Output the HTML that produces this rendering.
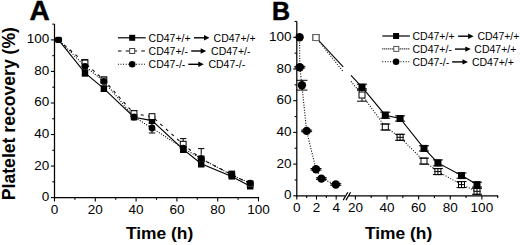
<!DOCTYPE html><html><head><meta charset="utf-8"><style>html,body{margin:0;padding:0;background:#fff;overflow:hidden}svg{display:block}text{font-family:"Liberation Sans",sans-serif;fill:#000}</style></head><body>
<svg width="520" height="245" viewBox="0 0 520 245">
<rect width="520" height="245" fill="#fff"/>
<text x="29.50" y="20.10" font-size="28" text-anchor="start" font-weight="bold" stroke="#000" stroke-width="0.5">A</text>
<text x="271.90" y="19.70" font-size="25" text-anchor="start" font-weight="bold" stroke="#000" stroke-width="0.5">B</text>
<text transform="translate(15.3,113.6) rotate(-90)" font-size="17.6" font-weight="bold" text-anchor="middle">Platelet recovery (%)</text>
<line x1="54.5" y1="24.13" x2="54.5" y2="198.22" stroke="#000" stroke-width="1.25"/>
<line x1="53.875" y1="197.6" x2="259.12" y2="197.6" stroke="#000" stroke-width="1.25"/>
<line x1="50.90" y1="197.60" x2="54.5" y2="197.60" stroke="#000" stroke-width="1.1"/>
<line x1="52.30" y1="181.83" x2="54.5" y2="181.83" stroke="#000" stroke-width="1.1"/>
<line x1="50.90" y1="166.06" x2="54.5" y2="166.06" stroke="#000" stroke-width="1.1"/>
<line x1="52.30" y1="150.29" x2="54.5" y2="150.29" stroke="#000" stroke-width="1.1"/>
<line x1="50.90" y1="134.52" x2="54.5" y2="134.52" stroke="#000" stroke-width="1.1"/>
<line x1="52.30" y1="118.75" x2="54.5" y2="118.75" stroke="#000" stroke-width="1.1"/>
<line x1="50.90" y1="102.98" x2="54.5" y2="102.98" stroke="#000" stroke-width="1.1"/>
<line x1="52.30" y1="87.21" x2="54.5" y2="87.21" stroke="#000" stroke-width="1.1"/>
<line x1="50.90" y1="71.44" x2="54.5" y2="71.44" stroke="#000" stroke-width="1.1"/>
<line x1="52.30" y1="55.67" x2="54.5" y2="55.67" stroke="#000" stroke-width="1.1"/>
<line x1="50.90" y1="39.90" x2="54.5" y2="39.90" stroke="#000" stroke-width="1.1"/>
<line x1="52.30" y1="24.13" x2="54.5" y2="24.13" stroke="#000" stroke-width="1.1"/>
<line x1="54.50" y1="197.6" x2="54.50" y2="201.40" stroke="#000" stroke-width="1.1"/>
<line x1="74.90" y1="197.6" x2="74.90" y2="199.80" stroke="#000" stroke-width="1.1"/>
<line x1="95.30" y1="197.6" x2="95.30" y2="201.40" stroke="#000" stroke-width="1.1"/>
<line x1="115.70" y1="197.6" x2="115.70" y2="199.80" stroke="#000" stroke-width="1.1"/>
<line x1="136.10" y1="197.6" x2="136.10" y2="201.40" stroke="#000" stroke-width="1.1"/>
<line x1="156.50" y1="197.6" x2="156.50" y2="199.80" stroke="#000" stroke-width="1.1"/>
<line x1="176.90" y1="197.6" x2="176.90" y2="201.40" stroke="#000" stroke-width="1.1"/>
<line x1="197.30" y1="197.6" x2="197.30" y2="199.80" stroke="#000" stroke-width="1.1"/>
<line x1="217.70" y1="197.6" x2="217.70" y2="201.40" stroke="#000" stroke-width="1.1"/>
<line x1="238.10" y1="197.6" x2="238.10" y2="199.80" stroke="#000" stroke-width="1.1"/>
<line x1="258.50" y1="197.6" x2="258.50" y2="201.40" stroke="#000" stroke-width="1.1"/>
<text x="49.30" y="201.10" font-size="13.5" text-anchor="end" font-weight="normal" >0</text>
<text x="49.30" y="169.56" font-size="13.5" text-anchor="end" font-weight="normal" >20</text>
<text x="49.30" y="138.02" font-size="13.5" text-anchor="end" font-weight="normal" >40</text>
<text x="49.30" y="106.48" font-size="13.5" text-anchor="end" font-weight="normal" >60</text>
<text x="49.30" y="74.94" font-size="13.5" text-anchor="end" font-weight="normal" >80</text>
<text x="49.30" y="43.40" font-size="13.5" text-anchor="end" font-weight="normal" >100</text>
<text x="54.50" y="214.00" font-size="13.5" text-anchor="middle" font-weight="normal" >0</text>
<text x="95.30" y="214.00" font-size="13.5" text-anchor="middle" font-weight="normal" >20</text>
<text x="136.10" y="214.00" font-size="13.5" text-anchor="middle" font-weight="normal" >40</text>
<text x="176.90" y="214.00" font-size="13.5" text-anchor="middle" font-weight="normal" >60</text>
<text x="217.70" y="214.00" font-size="13.5" text-anchor="middle" font-weight="normal" >80</text>
<text x="258.50" y="214.00" font-size="13.5" text-anchor="middle" font-weight="normal" >100</text>
<text x="159.60" y="238.70" font-size="17.4" text-anchor="middle" font-weight="bold" >Time (h)</text>
<polyline points="58.50,39.90 85.00,72.80 103.90,88.60 134.00,117.20 152.00,120.60 183.20,149.40 201.20,163.80 231.80,176.40 250.20,186.30" fill="none" stroke="#000" stroke-width="1.1"/>
<polyline points="58.50,39.90 85.00,63.00 103.90,80.00 134.00,113.60 152.00,116.60 183.20,144.20 201.20,159.00 231.80,174.50 250.20,184.00" fill="none" stroke="#000" stroke-width="1.1" stroke-dasharray="3,4.5"/>
<polyline points="58.50,39.90 85.00,66.30 103.90,81.40 134.00,117.00 152.00,128.00 183.20,148.20 201.20,158.60 231.80,175.00 250.20,183.20" fill="none" stroke="#000" stroke-width="1.1" stroke-dasharray="1,1.5"/>
<line x1="85.00" y1="70.00" x2="85.00" y2="73.10" stroke="#000" stroke-width="1"/><line x1="85.00" y1="73.10" x2="85.00" y2="76.20" stroke="#000" stroke-width="1"/><line x1="81.80" y1="70.00" x2="88.20" y2="70.00" stroke="#000" stroke-width="1"/><line x1="81.80" y1="76.20" x2="88.20" y2="76.20" stroke="#000" stroke-width="1"/>
<line x1="103.90" y1="86.00" x2="103.90" y2="88.75" stroke="#000" stroke-width="1"/><line x1="103.90" y1="88.75" x2="103.90" y2="91.50" stroke="#000" stroke-width="1"/><line x1="100.70" y1="86.00" x2="107.10" y2="86.00" stroke="#000" stroke-width="1"/><line x1="100.70" y1="91.50" x2="107.10" y2="91.50" stroke="#000" stroke-width="1"/>
<line x1="183.20" y1="147.00" x2="183.20" y2="149.75" stroke="#000" stroke-width="1"/><line x1="183.20" y1="149.75" x2="183.20" y2="152.50" stroke="#000" stroke-width="1"/><line x1="180.00" y1="147.00" x2="186.40" y2="147.00" stroke="#000" stroke-width="1"/><line x1="180.00" y1="152.50" x2="186.40" y2="152.50" stroke="#000" stroke-width="1"/>
<line x1="201.20" y1="161.00" x2="201.20" y2="164.00" stroke="#000" stroke-width="1"/><line x1="201.20" y1="164.00" x2="201.20" y2="167.00" stroke="#000" stroke-width="1"/><line x1="198.00" y1="161.00" x2="204.40" y2="161.00" stroke="#000" stroke-width="1"/><line x1="198.00" y1="167.00" x2="204.40" y2="167.00" stroke="#000" stroke-width="1"/>
<rect x="81.80" y="69.60" width="6.4" height="6.4" fill="#000"/>
<rect x="100.70" y="85.40" width="6.4" height="6.4" fill="#000"/>
<rect x="130.80" y="114.00" width="6.4" height="6.4" fill="#000"/>
<rect x="148.80" y="117.40" width="6.4" height="6.4" fill="#000"/>
<rect x="180.00" y="146.20" width="6.4" height="6.4" fill="#000"/>
<rect x="198.00" y="160.60" width="6.4" height="6.4" fill="#000"/>
<rect x="228.60" y="173.20" width="6.4" height="6.4" fill="#000"/>
<rect x="247.00" y="183.10" width="6.4" height="6.4" fill="#000"/>
<rect x="54.90" y="36.80" width="7.2" height="6.2" rx="2" fill="#000"/>
<line x1="85.00" y1="59.60" x2="85.00" y2="62.80" stroke="#000" stroke-width="1"/><line x1="85.00" y1="62.80" x2="85.00" y2="66.00" stroke="#000" stroke-width="1"/><line x1="81.80" y1="59.60" x2="88.20" y2="59.60" stroke="#000" stroke-width="1"/><line x1="81.80" y1="66.00" x2="88.20" y2="66.00" stroke="#000" stroke-width="1"/>
<line x1="103.90" y1="77.00" x2="103.90" y2="80.00" stroke="#000" stroke-width="1"/><line x1="103.90" y1="80.00" x2="103.90" y2="83.00" stroke="#000" stroke-width="1"/><line x1="100.70" y1="77.00" x2="107.10" y2="77.00" stroke="#000" stroke-width="1"/><line x1="100.70" y1="83.00" x2="107.10" y2="83.00" stroke="#000" stroke-width="1"/>
<line x1="152.00" y1="116.40" x2="152.00" y2="116.60" stroke="#000" stroke-width="1"/><line x1="152.00" y1="116.60" x2="152.00" y2="116.80" stroke="#000" stroke-width="1"/><line x1="148.80" y1="116.40" x2="155.20" y2="116.40" stroke="#000" stroke-width="1"/><line x1="148.80" y1="116.80" x2="155.20" y2="116.80" stroke="#000" stroke-width="1"/>
<line x1="183.20" y1="138.60" x2="183.20" y2="144.20" stroke="#000" stroke-width="1"/><line x1="183.20" y1="144.20" x2="183.20" y2="149.80" stroke="#000" stroke-width="1"/><line x1="180.00" y1="138.60" x2="186.40" y2="138.60" stroke="#000" stroke-width="1"/><line x1="180.00" y1="149.80" x2="186.40" y2="149.80" stroke="#000" stroke-width="1"/>
<line x1="134.00" y1="110.60" x2="134.00" y2="113.30" stroke="#000" stroke-width="1"/><line x1="134.00" y1="113.30" x2="134.00" y2="116.00" stroke="#000" stroke-width="1"/><line x1="130.80" y1="110.60" x2="137.20" y2="110.60" stroke="#000" stroke-width="1"/><line x1="130.80" y1="116.00" x2="137.20" y2="116.00" stroke="#000" stroke-width="1"/>
<line x1="231.80" y1="171.10" x2="231.80" y2="174.50" stroke="#000" stroke-width="1"/><line x1="231.80" y1="174.50" x2="231.80" y2="177.90" stroke="#000" stroke-width="1"/><line x1="228.60" y1="171.10" x2="235.00" y2="171.10" stroke="#000" stroke-width="1"/><line x1="228.60" y1="177.90" x2="235.00" y2="177.90" stroke="#000" stroke-width="1"/>
<rect x="82.10" y="60.10" width="5.800000000000001" height="5.800000000000001" fill="#fff" stroke="#000" stroke-width="1"/>
<rect x="101.00" y="77.10" width="5.800000000000001" height="5.800000000000001" fill="#fff" stroke="#000" stroke-width="1"/>
<rect x="131.10" y="110.70" width="5.800000000000001" height="5.800000000000001" fill="#fff" stroke="#000" stroke-width="1"/>
<rect x="149.10" y="113.70" width="5.800000000000001" height="5.800000000000001" fill="#fff" stroke="#000" stroke-width="1"/>
<rect x="180.30" y="141.30" width="5.800000000000001" height="5.800000000000001" fill="#fff" stroke="#000" stroke-width="1"/>
<rect x="198.30" y="156.10" width="5.800000000000001" height="5.800000000000001" fill="#fff" stroke="#000" stroke-width="1"/>
<rect x="228.90" y="171.60" width="5.800000000000001" height="5.800000000000001" fill="#fff" stroke="#000" stroke-width="1"/>
<rect x="247.30" y="181.10" width="5.800000000000001" height="5.800000000000001" fill="#fff" stroke="#000" stroke-width="1"/>
<line x1="152.00" y1="123.50" x2="152.00" y2="128.25" stroke="#000" stroke-width="1"/><line x1="152.00" y1="128.25" x2="152.00" y2="133.00" stroke="#000" stroke-width="1"/><line x1="148.80" y1="123.50" x2="155.20" y2="123.50" stroke="#000" stroke-width="1"/><line x1="148.80" y1="133.00" x2="155.20" y2="133.00" stroke="#000" stroke-width="1"/>
<line x1="201.20" y1="148.60" x2="201.20" y2="154.30" stroke="#000" stroke-width="1"/><line x1="201.20" y1="154.30" x2="201.20" y2="160.00" stroke="#000" stroke-width="1"/><line x1="198.00" y1="148.60" x2="204.40" y2="148.60" stroke="#000" stroke-width="1"/><line x1="198.00" y1="160.00" x2="204.40" y2="160.00" stroke="#000" stroke-width="1"/>
<circle cx="85.00" cy="66.30" r="3.4" fill="#000"/>
<circle cx="103.90" cy="81.40" r="3.4" fill="#000"/>
<circle cx="134.00" cy="117.00" r="3.4" fill="#000"/>
<circle cx="152.00" cy="128.00" r="3.4" fill="#000"/>
<circle cx="183.20" cy="148.20" r="3.4" fill="#000"/>
<circle cx="201.20" cy="158.60" r="3.4" fill="#000"/>
<circle cx="231.80" cy="175.00" r="3.4" fill="#000"/>
<circle cx="250.20" cy="183.20" r="3.4" fill="#000"/>
<line x1="117.9" y1="37.8" x2="145.7" y2="37.8" stroke="#000" stroke-width="1.2"/>
<line x1="117.9" y1="51.0" x2="145.7" y2="51.0" stroke="#000" stroke-width="1.2" stroke-dasharray="3.6,4.2"/>
<line x1="117.9" y1="64.3" x2="145.7" y2="64.3" stroke="#000" stroke-width="1.1" stroke-dasharray="1,1.6"/>
<rect x="129.20" y="34.80" width="6" height="6" fill="#000"/>
<rect x="129.70" y="48.50" width="5" height="5" fill="#fff" stroke="#444" stroke-width="1"/>
<circle cx="132.20" cy="64.30" r="3.3" fill="#000"/>
<text x="148.60" y="41.50" font-size="10.5" text-anchor="start" font-weight="normal" >CD47+/+</text>
<line x1="194.00" y1="37.80" x2="205.50" y2="37.80" stroke="#000" stroke-width="1.4"/><path d="M204.00,35.10 L209.50,37.80 L204.00,40.50 Z" fill="#000"/>
<text x="213.60" y="41.50" font-size="10.5" text-anchor="start" font-weight="normal" >CD47+/+</text>
<text x="148.60" y="54.70" font-size="10.5" text-anchor="start" font-weight="normal" >CD47+/-</text>
<line x1="191.20" y1="51.00" x2="202.20" y2="51.00" stroke="#000" stroke-width="1.4"/><path d="M200.70,48.30 L206.20,51.00 L200.70,53.70 Z" fill="#000"/>
<text x="211.10" y="54.70" font-size="10.5" text-anchor="start" font-weight="normal" >CD47+/-</text>
<text x="148.60" y="68.00" font-size="10.5" text-anchor="start" font-weight="normal" >CD47-/-</text>
<line x1="188.30" y1="64.30" x2="199.80" y2="64.30" stroke="#000" stroke-width="1.4"/><path d="M198.30,61.60 L203.80,64.30 L198.30,67.00 Z" fill="#000"/>
<text x="208.40" y="68.00" font-size="10.5" text-anchor="start" font-weight="normal" >CD47-/-</text>
<line x1="296.8" y1="21.45" x2="296.8" y2="196.43" stroke="#000" stroke-width="1.25"/>
<line x1="296.175" y1="195.8" x2="345" y2="195.8" stroke="#000" stroke-width="1.25"/>
<line x1="348.6" y1="195.8" x2="498.19" y2="195.8" stroke="#000" stroke-width="1.25"/>
<line x1="343.2" y1="200.1" x2="347.8" y2="192.2" stroke="#000" stroke-width="1.2"/>
<line x1="346.0" y1="200.1" x2="350.6" y2="192.2" stroke="#000" stroke-width="1.2"/>
<line x1="293.20" y1="195.80" x2="296.8" y2="195.80" stroke="#000" stroke-width="1.1"/>
<line x1="294.60" y1="179.95" x2="296.8" y2="179.95" stroke="#000" stroke-width="1.1"/>
<line x1="293.20" y1="164.10" x2="296.8" y2="164.10" stroke="#000" stroke-width="1.1"/>
<line x1="294.60" y1="148.25" x2="296.8" y2="148.25" stroke="#000" stroke-width="1.1"/>
<line x1="293.20" y1="132.40" x2="296.8" y2="132.40" stroke="#000" stroke-width="1.1"/>
<line x1="294.60" y1="116.55" x2="296.8" y2="116.55" stroke="#000" stroke-width="1.1"/>
<line x1="293.20" y1="100.70" x2="296.8" y2="100.70" stroke="#000" stroke-width="1.1"/>
<line x1="294.60" y1="84.85" x2="296.8" y2="84.85" stroke="#000" stroke-width="1.1"/>
<line x1="293.20" y1="69.00" x2="296.8" y2="69.00" stroke="#000" stroke-width="1.1"/>
<line x1="294.60" y1="53.15" x2="296.8" y2="53.15" stroke="#000" stroke-width="1.1"/>
<line x1="293.20" y1="37.30" x2="296.8" y2="37.30" stroke="#000" stroke-width="1.1"/>
<line x1="294.60" y1="21.45" x2="296.8" y2="21.45" stroke="#000" stroke-width="1.1"/>
<line x1="296.80" y1="195.8" x2="296.80" y2="199.60" stroke="#000" stroke-width="1.1"/>
<line x1="306.65" y1="195.8" x2="306.65" y2="198.00" stroke="#000" stroke-width="1.1"/>
<line x1="316.50" y1="195.8" x2="316.50" y2="199.60" stroke="#000" stroke-width="1.1"/>
<line x1="326.35" y1="195.8" x2="326.35" y2="198.00" stroke="#000" stroke-width="1.1"/>
<line x1="336.20" y1="195.8" x2="336.20" y2="199.60" stroke="#000" stroke-width="1.1"/>
<line x1="355.40" y1="195.8" x2="355.40" y2="199.60" stroke="#000" stroke-width="1.1"/>
<line x1="371.21" y1="195.8" x2="371.21" y2="198.00" stroke="#000" stroke-width="1.1"/>
<line x1="387.02" y1="195.8" x2="387.02" y2="199.60" stroke="#000" stroke-width="1.1"/>
<line x1="402.83" y1="195.8" x2="402.83" y2="198.00" stroke="#000" stroke-width="1.1"/>
<line x1="418.64" y1="195.8" x2="418.64" y2="199.60" stroke="#000" stroke-width="1.1"/>
<line x1="434.45" y1="195.8" x2="434.45" y2="198.00" stroke="#000" stroke-width="1.1"/>
<line x1="450.26" y1="195.8" x2="450.26" y2="199.60" stroke="#000" stroke-width="1.1"/>
<line x1="466.07" y1="195.8" x2="466.07" y2="198.00" stroke="#000" stroke-width="1.1"/>
<line x1="481.88" y1="195.8" x2="481.88" y2="199.60" stroke="#000" stroke-width="1.1"/>
<line x1="497.69" y1="195.8" x2="497.69" y2="198.00" stroke="#000" stroke-width="1.1"/>
<text x="291.60" y="199.30" font-size="13.5" text-anchor="end" font-weight="normal" >0</text>
<text x="291.60" y="167.60" font-size="13.5" text-anchor="end" font-weight="normal" >20</text>
<text x="291.60" y="135.90" font-size="13.5" text-anchor="end" font-weight="normal" >40</text>
<text x="291.60" y="104.20" font-size="13.5" text-anchor="end" font-weight="normal" >60</text>
<text x="291.60" y="72.50" font-size="13.5" text-anchor="end" font-weight="normal" >80</text>
<text x="291.60" y="40.80" font-size="13.5" text-anchor="end" font-weight="normal" >100</text>
<text x="296.80" y="212.20" font-size="13.5" text-anchor="middle" font-weight="normal" >0</text>
<text x="316.50" y="212.20" font-size="13.5" text-anchor="middle" font-weight="normal" >2</text>
<text x="336.20" y="212.20" font-size="13.5" text-anchor="middle" font-weight="normal" >4</text>
<text x="355.40" y="212.20" font-size="13.5" text-anchor="middle" font-weight="normal" >20</text>
<text x="387.02" y="212.20" font-size="13.5" text-anchor="middle" font-weight="normal" >40</text>
<text x="418.64" y="212.20" font-size="13.5" text-anchor="middle" font-weight="normal" >60</text>
<text x="450.26" y="212.20" font-size="13.5" text-anchor="middle" font-weight="normal" >80</text>
<text x="481.88" y="212.20" font-size="13.5" text-anchor="middle" font-weight="normal" >100</text>
<text x="398.60" y="238.50" font-size="17.4" text-anchor="middle" font-weight="bold" >Time (h)</text>
<polyline points="299.60,37.20 299.80,67.20 301.90,85.20 306.60,130.90 316.00,169.30 321.40,178.60 335.80,184.50" fill="none" stroke="#000" stroke-width="1.1" stroke-dasharray="1,1.6"/>
<polyline points="316.00,37.50 343.20,66.89" fill="none" stroke="#000" stroke-width="1.1"/>
<polyline points="351.00,75.32 362.00,87.20 385.30,115.20 400.10,118.50 424.00,148.40 437.90,162.90 461.50,175.60 477.00,184.60" fill="none" stroke="#000" stroke-width="1.1"/>
<polyline points="316.00,37.60 343.20,71.54" fill="none" stroke="#000" stroke-width="1.1" stroke-dasharray="1,1.6"/>
<polyline points="351.00,81.27 362.00,95.00 385.30,127.00 400.10,137.30 424.00,161.10 437.90,171.60 461.50,184.60 477.00,191.30" fill="none" stroke="#000" stroke-width="1.1" stroke-dasharray="1,1.6"/>
<rect x="312.50" y="34.00" width="7.0" height="7.0" fill="#000"/>
<rect x="358.50" y="83.70" width="7.0" height="7.0" fill="#000"/>
<rect x="381.80" y="111.70" width="7.0" height="7.0" fill="#000"/>
<rect x="396.60" y="115.00" width="7.0" height="7.0" fill="#000"/>
<rect x="420.50" y="144.90" width="7.0" height="7.0" fill="#000"/>
<rect x="434.40" y="159.40" width="7.0" height="7.0" fill="#000"/>
<rect x="458.00" y="172.10" width="7.0" height="7.0" fill="#000"/>
<rect x="473.50" y="181.10" width="7.0" height="7.0" fill="#000"/>
<line x1="362.00" y1="84.20" x2="362.00" y2="87.20" stroke="#000" stroke-width="1"/><line x1="362.00" y1="87.20" x2="362.00" y2="90.20" stroke="#000" stroke-width="1"/><line x1="357.00" y1="84.20" x2="367.00" y2="84.20" stroke="#000" stroke-width="1"/><line x1="357.00" y1="90.20" x2="367.00" y2="90.20" stroke="#000" stroke-width="1"/>
<line x1="385.30" y1="112.20" x2="385.30" y2="115.20" stroke="#000" stroke-width="1"/><line x1="385.30" y1="115.20" x2="385.30" y2="118.20" stroke="#000" stroke-width="1"/><line x1="380.30" y1="112.20" x2="390.30" y2="112.20" stroke="#000" stroke-width="1"/><line x1="380.30" y1="118.20" x2="390.30" y2="118.20" stroke="#000" stroke-width="1"/>
<line x1="400.10" y1="115.90" x2="400.10" y2="118.50" stroke="#000" stroke-width="1"/><line x1="400.10" y1="118.50" x2="400.10" y2="121.10" stroke="#000" stroke-width="1"/><line x1="395.10" y1="115.90" x2="405.10" y2="115.90" stroke="#000" stroke-width="1"/><line x1="395.10" y1="121.10" x2="405.10" y2="121.10" stroke="#000" stroke-width="1"/>
<line x1="424.00" y1="145.80" x2="424.00" y2="148.40" stroke="#000" stroke-width="1"/><line x1="424.00" y1="148.40" x2="424.00" y2="151.00" stroke="#000" stroke-width="1"/><line x1="419.00" y1="145.80" x2="429.00" y2="145.80" stroke="#000" stroke-width="1"/><line x1="419.00" y1="151.00" x2="429.00" y2="151.00" stroke="#000" stroke-width="1"/>
<line x1="437.90" y1="159.90" x2="437.90" y2="162.90" stroke="#000" stroke-width="1"/><line x1="437.90" y1="162.90" x2="437.90" y2="165.90" stroke="#000" stroke-width="1"/><line x1="432.90" y1="159.90" x2="442.90" y2="159.90" stroke="#000" stroke-width="1"/><line x1="432.90" y1="165.90" x2="442.90" y2="165.90" stroke="#000" stroke-width="1"/>
<line x1="461.50" y1="173.00" x2="461.50" y2="175.60" stroke="#000" stroke-width="1"/><line x1="461.50" y1="175.60" x2="461.50" y2="178.20" stroke="#000" stroke-width="1"/><line x1="456.50" y1="173.00" x2="466.50" y2="173.00" stroke="#000" stroke-width="1"/><line x1="456.50" y1="178.20" x2="466.50" y2="178.20" stroke="#000" stroke-width="1"/>
<line x1="477.00" y1="182.20" x2="477.00" y2="184.60" stroke="#000" stroke-width="1"/><line x1="477.00" y1="184.60" x2="477.00" y2="187.00" stroke="#000" stroke-width="1"/><line x1="472.00" y1="182.20" x2="482.00" y2="182.20" stroke="#000" stroke-width="1"/><line x1="472.00" y1="187.00" x2="482.00" y2="187.00" stroke="#000" stroke-width="1"/>
<rect x="313.00" y="34.60" width="6.0" height="6.0" fill="#fff" stroke="#666" stroke-width="1"/>
<rect x="359.00" y="92.00" width="6.0" height="6.0" fill="#fff" stroke="#000" stroke-width="1"/>
<rect x="382.30" y="124.00" width="6.0" height="6.0" fill="#fff" stroke="#000" stroke-width="1"/>
<rect x="397.10" y="134.30" width="6.0" height="6.0" fill="#fff" stroke="#000" stroke-width="1"/>
<rect x="421.00" y="158.10" width="6.0" height="6.0" fill="#fff" stroke="#000" stroke-width="1"/>
<rect x="434.90" y="168.60" width="6.0" height="6.0" fill="#fff" stroke="#000" stroke-width="1"/>
<rect x="458.50" y="181.60" width="6.0" height="6.0" fill="#fff" stroke="#000" stroke-width="1"/>
<rect x="474.00" y="188.30" width="6.0" height="6.0" fill="#fff" stroke="#000" stroke-width="1"/>
<line x1="362.00" y1="88.80" x2="362.00" y2="91.50" stroke="#000" stroke-width="1"/><line x1="362.00" y1="98.50" x2="362.00" y2="101.20" stroke="#000" stroke-width="1"/><line x1="357.00" y1="88.80" x2="367.00" y2="88.80" stroke="#000" stroke-width="1"/><line x1="357.00" y1="101.20" x2="367.00" y2="101.20" stroke="#000" stroke-width="1"/>
<line x1="380.30" y1="124.00" x2="390.30" y2="124.00" stroke="#000" stroke-width="1"/><line x1="380.30" y1="130.00" x2="390.30" y2="130.00" stroke="#000" stroke-width="1"/>
<line x1="400.10" y1="134.30" x2="400.10" y2="137.30" stroke="#000" stroke-width="1"/><line x1="400.10" y1="137.30" x2="400.10" y2="140.30" stroke="#000" stroke-width="1"/><line x1="395.10" y1="134.30" x2="405.10" y2="134.30" stroke="#000" stroke-width="1"/><line x1="395.10" y1="140.30" x2="405.10" y2="140.30" stroke="#000" stroke-width="1"/>
<line x1="396.60" y1="137.30" x2="403.60" y2="137.30" stroke="#000" stroke-width="1"/>
<line x1="419.00" y1="158.10" x2="429.00" y2="158.10" stroke="#000" stroke-width="1"/><line x1="419.00" y1="164.10" x2="429.00" y2="164.10" stroke="#000" stroke-width="1"/>
<line x1="437.90" y1="168.60" x2="437.90" y2="171.60" stroke="#000" stroke-width="1"/><line x1="437.90" y1="171.60" x2="437.90" y2="174.60" stroke="#000" stroke-width="1"/><line x1="432.90" y1="168.60" x2="442.90" y2="168.60" stroke="#000" stroke-width="1"/><line x1="432.90" y1="174.60" x2="442.90" y2="174.60" stroke="#000" stroke-width="1"/>
<line x1="434.40" y1="171.60" x2="441.40" y2="171.60" stroke="#000" stroke-width="1"/>
<line x1="461.50" y1="181.60" x2="461.50" y2="184.60" stroke="#000" stroke-width="1"/><line x1="461.50" y1="184.60" x2="461.50" y2="187.60" stroke="#000" stroke-width="1"/><line x1="456.50" y1="181.60" x2="466.50" y2="181.60" stroke="#000" stroke-width="1"/><line x1="456.50" y1="187.60" x2="466.50" y2="187.60" stroke="#000" stroke-width="1"/>
<line x1="458.00" y1="184.60" x2="465.00" y2="184.60" stroke="#000" stroke-width="1"/>
<line x1="477.00" y1="188.30" x2="477.00" y2="191.30" stroke="#000" stroke-width="1"/><line x1="477.00" y1="191.30" x2="477.00" y2="194.30" stroke="#000" stroke-width="1"/><line x1="472.00" y1="188.30" x2="482.00" y2="188.30" stroke="#000" stroke-width="1"/><line x1="472.00" y1="194.30" x2="482.00" y2="194.30" stroke="#000" stroke-width="1"/>
<line x1="473.50" y1="191.30" x2="480.50" y2="191.30" stroke="#000" stroke-width="1"/>
<line x1="299.80" y1="66.40" x2="299.80" y2="67.20" stroke="#000" stroke-width="1"/><line x1="299.80" y1="67.20" x2="299.80" y2="68.00" stroke="#000" stroke-width="1"/><line x1="294.30" y1="66.40" x2="305.30" y2="66.40" stroke="#000" stroke-width="1"/><line x1="294.30" y1="68.00" x2="305.30" y2="68.00" stroke="#000" stroke-width="1"/>
<line x1="301.90" y1="80.30" x2="301.90" y2="85.20" stroke="#000" stroke-width="1"/><line x1="301.90" y1="85.20" x2="301.90" y2="90.10" stroke="#000" stroke-width="1"/><line x1="296.40" y1="80.30" x2="307.40" y2="80.30" stroke="#000" stroke-width="1"/><line x1="296.40" y1="90.10" x2="307.40" y2="90.10" stroke="#000" stroke-width="1"/>
<line x1="306.60" y1="130.10" x2="306.60" y2="130.90" stroke="#000" stroke-width="1"/><line x1="306.60" y1="130.90" x2="306.60" y2="131.70" stroke="#000" stroke-width="1"/><line x1="301.10" y1="130.10" x2="312.10" y2="130.10" stroke="#000" stroke-width="1"/><line x1="301.10" y1="131.70" x2="312.10" y2="131.70" stroke="#000" stroke-width="1"/>
<line x1="316.00" y1="168.50" x2="316.00" y2="169.30" stroke="#000" stroke-width="1"/><line x1="316.00" y1="169.30" x2="316.00" y2="170.10" stroke="#000" stroke-width="1"/><line x1="310.50" y1="168.50" x2="321.50" y2="168.50" stroke="#000" stroke-width="1"/><line x1="310.50" y1="170.10" x2="321.50" y2="170.10" stroke="#000" stroke-width="1"/>
<line x1="321.40" y1="177.80" x2="321.40" y2="178.60" stroke="#000" stroke-width="1"/><line x1="321.40" y1="178.60" x2="321.40" y2="179.40" stroke="#000" stroke-width="1"/><line x1="315.90" y1="177.80" x2="326.90" y2="177.80" stroke="#000" stroke-width="1"/><line x1="315.90" y1="179.40" x2="326.90" y2="179.40" stroke="#000" stroke-width="1"/>
<line x1="335.80" y1="183.70" x2="335.80" y2="184.50" stroke="#000" stroke-width="1"/><line x1="335.80" y1="184.50" x2="335.80" y2="185.30" stroke="#000" stroke-width="1"/><line x1="330.30" y1="183.70" x2="341.30" y2="183.70" stroke="#000" stroke-width="1"/><line x1="330.30" y1="185.30" x2="341.30" y2="185.30" stroke="#000" stroke-width="1"/>
<circle cx="299.60" cy="37.20" r="4.2" fill="#000"/>
<circle cx="299.80" cy="67.20" r="4.2" fill="#000"/>
<circle cx="301.90" cy="85.20" r="4.2" fill="#000"/>
<circle cx="306.60" cy="130.90" r="4.2" fill="#000"/>
<circle cx="316.00" cy="169.30" r="4.2" fill="#000"/>
<circle cx="321.40" cy="178.60" r="4.2" fill="#000"/>
<circle cx="335.80" cy="184.50" r="4.2" fill="#000"/>
<line x1="382.3" y1="36.0" x2="409.9" y2="36.0" stroke="#000" stroke-width="1.2"/>
<line x1="382.3" y1="48.9" x2="409.9" y2="48.9" stroke="#000" stroke-width="1.1" stroke-dasharray="1,1"/>
<line x1="382.3" y1="61.7" x2="409.9" y2="61.7" stroke="#000" stroke-width="1.1" stroke-dasharray="1,1.6"/>
<rect x="393.10" y="33.00" width="6" height="6" fill="#000"/>
<rect x="393.80" y="46.40" width="5" height="5" fill="#fff" stroke="#555" stroke-width="1"/>
<circle cx="396.10" cy="61.70" r="3.3" fill="#000"/>
<text x="412.50" y="40.20" font-size="10.5" text-anchor="start" font-weight="normal" >CD47+/+</text>
<line x1="458.10" y1="36.20" x2="469.60" y2="36.20" stroke="#000" stroke-width="1.4"/><path d="M468.10,33.50 L473.60,36.20 L468.10,38.90 Z" fill="#000"/>
<text x="477.40" y="40.20" font-size="10.5" text-anchor="start" font-weight="normal" >CD47+/+</text>
<text x="412.50" y="53.10" font-size="10.5" text-anchor="start" font-weight="normal" >CD47+/-</text>
<line x1="455.00" y1="49.10" x2="466.80" y2="49.10" stroke="#000" stroke-width="1.4"/><path d="M465.30,46.40 L470.80,49.10 L465.30,51.80 Z" fill="#000"/>
<text x="474.30" y="53.10" font-size="10.5" text-anchor="start" font-weight="normal" >CD47+/+</text>
<text x="412.50" y="65.90" font-size="10.5" text-anchor="start" font-weight="normal" >CD47-/-</text>
<line x1="452.10" y1="61.90" x2="464.00" y2="61.90" stroke="#000" stroke-width="1.4"/><path d="M462.50,59.20 L468.00,61.90 L462.50,64.60 Z" fill="#000"/>
<text x="471.90" y="65.90" font-size="10.5" text-anchor="start" font-weight="normal" >CD47+/+</text>
</svg></body></html>
